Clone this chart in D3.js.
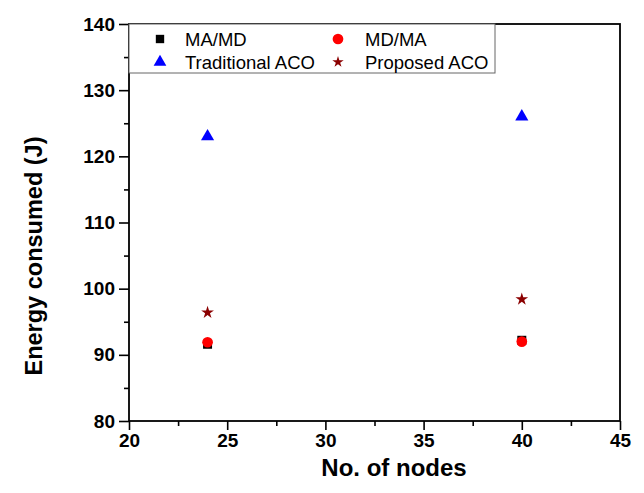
<!doctype html>
<html lang="en">
<head>
  <meta charset="utf-8">
  <title>Energy consumed</title>
  <script src="https://d3js.org/d3.v7.min.js"></script>
  <style>
    body { margin: 0; background: #fff; }
    text { font-family: "Liberation Sans", Arial, sans-serif; }
    .tick text { font-size: 19px; font-weight: bold; }
  </style>
</head>
<body>
<div id="chart"></div>
<script>
  // values
  var nodes = [24, 40];
  var maMd = [91.6, 92.2];
  var mdMa = [91.9, 92.0];
  var traditional = [123, 126];
  var proposed = [96.4, 98.4];

  var xTicks = [20, 25, 30, 35, 40, 45];
  var yTicks = [80, 90, 100, 110, 120, 130, 140];

  var width = 644, height = 493;
  var margin = {top: 24, right: 24, bottom: 72, left: 129};

  var svg = d3.select("#chart").append("svg")
    .attr("width", width)
    .attr("height", height);

  var x = d3.scaleLinear().domain([20, 45]).range([margin.left, width - margin.right]);
  var y = d3.scaleLinear().domain([80, 140]).range([height - margin.bottom, margin.top]);

  // minor ticks
  var xMinor = d3.range(22.5, 45, 5);
  var yMinor = d3.range(85, 140, 10);

  svg.append("g")
    .attr("transform", "translate(0," + y(80) + ")")
    .call(d3.axisBottom(x).tickValues(xMinor).tickSize(5).tickFormat(""));
  svg.append("g")
    .attr("transform", "translate(" + x(20) + ",0)")
    .call(d3.axisLeft(y).tickValues(yMinor).tickSize(5).tickFormat(""));

  svg.append("g")
    .attr("transform", "translate(0," + y(80) + ")")
    .call(d3.axisBottom(x).tickValues(xTicks).tickSize(9).tickPadding(4));
  svg.append("g")
    .attr("transform", "translate(" + x(20) + ",0)")
    .call(d3.axisLeft(y).tickValues(yTicks).tickSize(10).tickPadding(4));

  svg.selectAll(".tick line").attr("stroke", "#000").attr("stroke-width", 1.6);
  svg.selectAll(".domain").remove();

  // frame
  svg.append("rect")
    .attr("x", x(20)).attr("y", y(140))
    .attr("width", x(45) - x(20)).attr("height", y(80) - y(140))
    .attr("fill", "none").attr("stroke", "#000").attr("stroke-width", 1.8);

  // legend
  var legendItems = [
    {name: "MA/MD", sym: d3.symbolSquare, size: 70, color: "#000", col: 0, row: 0},
    {name: "MD/MA", sym: d3.symbolCircle, size: 90, color: "#ff0000", col: 1, row: 0},
    {name: "Traditional ACO", sym: d3.symbolTriangle, size: 70, color: "#0000ff", col: 0, row: 1},
    {name: "Proposed ACO", sym: d3.symbolStar, size: 40, color: "#8b0000", col: 1, row: 1}
  ];
  svg.append("rect")
    .attr("x", x(20)).attr("y", y(140))
    .attr("width", 366).attr("height", 49)
    .attr("fill", "#fff").attr("stroke", "#666").attr("stroke-width", 1);

  var lg = svg.selectAll(".leg").data(legendItems).enter().append("g")
    .attr("transform", function(d){ return "translate(" + (160 + d.col * 178) + "," + (39 + d.row * 23) + ")"; });
  lg.append("path")
    .attr("d", function(d){ return d3.symbol().type(d.sym).size(d.size)(); })
    .attr("fill", function(d){ return d.color; });
  lg.append("text")
    .attr("x", function(d){ return d.col ? 27 : 25; }).attr("y", 6.5)
    .attr("font-size", 18.5)
    .text(function(d){ return d.name; });

  // series
  var series = [
    {vals: maMd, sym: d3.symbolSquare, size: 81, color: "#000"},
    {vals: mdMa, sym: d3.symbolCircle, size: 90, color: "#ff0000"},
    {vals: traditional, sym: d3.symbolTriangle, size: 75, color: "#0000ff"},
    {vals: proposed, sym: d3.symbolStar, size: 50, color: "#8b0000"}
  ];
  series.forEach(function(s){
    svg.selectAll(null).data(nodes).enter().append("path")
      .attr("transform", function(d, i){ return "translate(" + x(d) + "," + y(s.vals[i]) + ")"; })
      .attr("d", d3.symbol().type(s.sym).size(s.size)())
      .attr("fill", s.color);
  });

  // axis titles
  svg.append("text")
    .attr("x", 394).attr("y", 476)
    .attr("text-anchor", "middle")
    .attr("font-size", 24).attr("font-weight", "bold")
    .text("No. of nodes");
  svg.append("text")
    .attr("transform", "translate(42,256) rotate(-90)")
    .attr("text-anchor", "middle")
    .attr("font-size", 23.5).attr("font-weight", "bold")
    .text("Energy consumed (J)");
</script>
</body>
</html>
